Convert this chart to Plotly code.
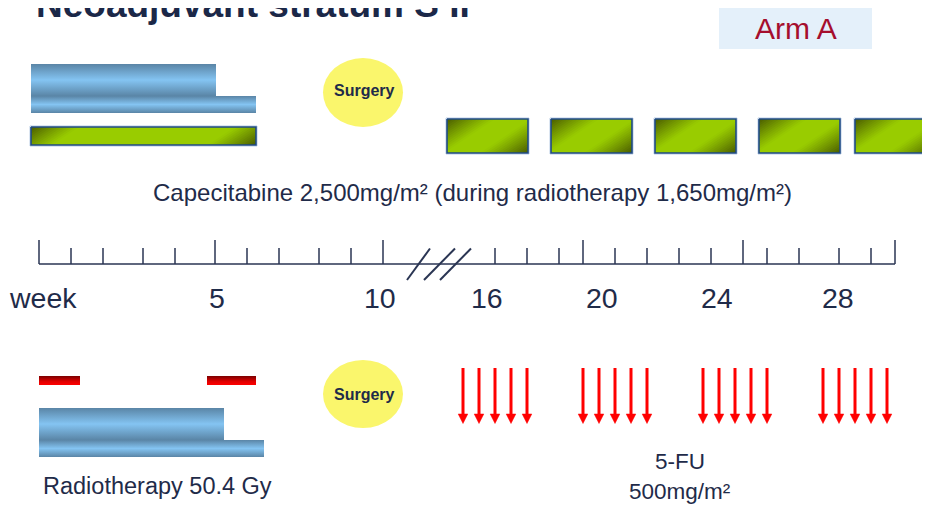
import plotly.graph_objects as go

# ---------------- data ----------------
title_text = "Neoadjuvant stratum S II"
arm_label = "Arm A"
week_labels = ["week", "5", "10", "16", "20", "24", "28"]
cape_text = "Capecitabine 2,500mg/m² (during radiotherapy 1,650mg/m²)"
rt_text = "Radiotherapy 50.4 Gy"
fu_text = ["5-FU", "500mg/m²"]
surgery_text = "Surgery"
cape_cycles = [1, 2, 3, 4, 5]      # adjuvant capecitabine cycles
fu_cycles = [1, 2, 3, 4]           # 5-FU cycles
fu_days = [1, 2, 3, 4, 5]          # 5-FU days per cycle

# ---------------- layout geometry (pixel space of the slide) ----------------
W, H = 930, 506
PAGE_OFFSET = 8   # the page body margin shifts the figure; compensate in axis ranges
NAVY = "#1F2B49"
FONT = "Liberation Sans, Arial, sans-serif"

tick_left = [39, 71, 103, 143, 175, 215, 247, 279, 319, 351, 383]
tick_right = [495, 527, 559, 583, 615, 647, 679, 711, 743, 767, 799, 839, 871, 895]
long_ticks = {39, 215, 383, 583, 743, 895}
label_x = [43, 217, 380, 487, 602, 717, 838]
axis_y = 264

cycle_x0 = [447, 551, 655, 759, 855]
cycle_w, cycle_y0, cycle_y1 = 81, 119, 153
group_x0 = [463, 583, 703, 823]
day_pitch = 16

fig = go.Figure()


def rect_xy(x0, x1, y0, y1):
    return [x0, x1, x1, x0, x0], [y0, y0, y1, y1, y0]


# ---- blue radiotherapy bars with vertical gradient bands ----
blue_dark, blue_light = "#5A85A6", "#84C4F2"
blue_bands = [(31, 216, 64, 96), (31, 256, 96, 113), (39, 224, 408, 440), (39, 264, 440, 457)]
for (x0, x1, y0, y1) in blue_bands:
    xs, ys = rect_xy(x0, x1, y0, y1)
    fig.add_trace(go.Scatter(
        x=xs, y=ys, mode="lines", fill="toself", line=dict(width=0),
        fillgradient=dict(type="vertical", start=y0, stop=y1,
                          colorscale=[[0, blue_dark], [0.5, blue_light], [1, blue_dark]]),
        hoverinfo="skip", showlegend=False))

# ---- red bars (vertical gradient) ----
for (x0, x1) in [(39, 80), (207, 256)]:
    xs, ys = rect_xy(x0, x1, 376, 385)
    fig.add_trace(go.Scatter(
        x=xs, y=ys, mode="lines", fill="toself", line=dict(width=0),
        fillgradient=dict(type="vertical", start=376, stop=385,
                          colorscale=[[0, "#7A0000"], [0.6, "#E00000"], [1, "#FF0000"]]),
        hoverinfo="skip", showlegend=False))

# ---- green capecitabine boxes with diagonal shading ----
green_rects = [(31, 256, 127, 145)] + [(x, x + cycle_w, cycle_y0, cycle_y1) for x in cycle_x0[:len(cape_cycles)]]


def clip_half(poly, f):
    out = []
    n = len(poly)
    for i in range(n):
        p, q = poly[i], poly[(i + 1) % n]
        fp, fq = f(*p), f(*q)
        if fp >= 0:
            out.append(p)
        if (fp >= 0) != (fq >= 0):
            t = fp / (fp - fq)
            out.append((p[0] + t * (q[0] - p[0]), p[1] + t * (q[1] - p[1])))
    return out


def mix(c1, c2, s):
    a = [int(c1[i:i + 2], 16) for i in (1, 3, 5)]
    b = [int(c2[i:i + 2], 16) for i in (1, 3, 5)]
    return "rgb(%d,%d,%d)" % tuple(round(a[k] + (b[k] - a[k]) * s) for k in range(3))


g_dark, g_bright = "#475800", "#99CC00"
bx, by = [], []
for (x0, x1, y0, y1) in green_rects:
    xs, ys = rect_xy(x0, x1, y0, y1)
    bx += xs + [None]
    by += ys + [None]
fig.add_trace(go.Scatter(x=bx, y=by, mode="lines", fill="toself", fillcolor=g_bright,
                         line=dict(width=0), hoverinfo="skip", showlegend=False))

R, K, N = 48.0, 1.5, 14
for corner in (0, 1):
    for k in range(N, 0, -1):
        c = R * k / N
        s = (k - 0.5) / N
        col = mix(g_dark, g_bright, s ** 0.9)
        px, py = [], []
        for (x0, x1, y0, y1) in green_rects:
            poly = [(x0, y0), (x1, y0), (x1, y1), (x0, y1)]
            if corner == 0:
                f = lambda x, y, x0=x0, y0=y0, c=c: c - ((x - x0) + K * (y - y0))
            else:
                f = lambda x, y, x1=x1, y1=y1, c=c: c - ((x1 - x) + K * (y1 - y))
            cp = clip_half(poly, f)
            if len(cp) >= 3:
                px += [p[0] for p in cp] + [cp[0][0], None]
                py += [p[1] for p in cp] + [cp[0][1], None]
        if px:
            fig.add_trace(go.Scatter(x=px, y=py, mode="lines", fill="toself", fillcolor=col,
                                     line=dict(width=0), hoverinfo="skip", showlegend=False))

hx, hy, ox, oy = [], [], [], []
for (x0, x1, y0, y1) in green_rects:
    xs, ys = rect_xy(x0 - 1, x1 + 1, y0 - 1, y1 + 1)
    hx += xs + [None]
    hy += ys + [None]
    xs, ys = rect_xy(x0, x1, y0, y1)
    ox += xs + [None]
    oy += ys + [None]
fig.add_trace(go.Scatter(x=hx, y=hy, mode="lines", line=dict(color="#B8CCE4", width=1),
                         hoverinfo="skip", showlegend=False))
fig.add_trace(go.Scatter(x=ox, y=oy, mode="lines", line=dict(color="#1F4A85", width=1.6),
                         hoverinfo="skip", showlegend=False))

# ---- timeline ----
fig.add_trace(go.Scatter(x=[tick_left[0], tick_right[-1]], y=[axis_y, axis_y], mode="lines",
                         line=dict(color="#2A3553", width=1.5), hoverinfo="skip", showlegend=False))
tx, ty = [], []
for x in tick_left + tick_right:
    top = 240 if x in long_ticks else 248
    tx += [x, x, None]
    ty += [axis_y, top, None]
fig.add_trace(go.Scatter(x=tx, y=ty, mode="lines", line=dict(color="#2A3553", width=1.5),
                         hoverinfo="skip", showlegend=False))
sx, sy = [], []
for (xb, xt) in [(407, 430), (424, 455), (440, 471)]:
    sx += [xb, xt, None]
    sy += [280, 248.5, None]
fig.add_trace(go.Scatter(x=sx, y=sy, mode="lines", line=dict(color="#2A3553", width=2),
                         hoverinfo="skip", showlegend=False))

# ---- 5-FU arrows ----
ax_, ay_, hx_, hy_ = [], [], [], []
for gi, g in enumerate(fu_cycles):
    for di, d in enumerate(fu_days):
        x = group_x0[gi] + di * day_pitch
        ax_ += [x, x, None]
        ay_ += [368, 415, None]
        hx_ += [x - 4.8, x + 4.8, x, x - 4.8, None]
        hy_ += [414, 414, 423.5, 414, None]
fig.add_trace(go.Scatter(x=ax_, y=ay_, mode="lines", line=dict(color="#FF0000", width=3),
                         hoverinfo="skip", showlegend=False))
fig.add_trace(go.Scatter(x=hx_, y=hy_, mode="lines", fill="toself", fillcolor="#FF0000",
                         line=dict(color="#FF0000", width=0.5), hoverinfo="skip", showlegend=False))

# ---- shapes: surgery ellipses, arm box ----
shapes = [
    dict(type="circle", xref="x", yref="y", x0=323, x1=403, y0=58, y1=127,
         fillcolor="#FAF66C", line=dict(width=0), layer="below"),
    dict(type="circle", xref="x", yref="y", x0=323, x1=403, y0=360, y1=428,
         fillcolor="#FAF66C", line=dict(width=0), layer="below"),
    dict(type="rect", xref="x", yref="y", x0=719, x1=872, y0=8, y1=49,
         fillcolor="#E4F0FA", line=dict(width=0), layer="below"),
]

# ---- texts ----
ann = []


def text(x, y, s, size, color=NAVY, bold=False, xanchor="center"):
    ann.append(dict(x=x, y=y, xref="x", yref="y", text=("<b>%s</b>" % s) if bold else s,
                    showarrow=False, xanchor=xanchor, yanchor="middle",
                    font=dict(family=FONT, size=size, color=color)))


# title sits partly above the slide's top edge (cropped in the original)
ann.append(dict(x=34, y=1 + 3.3 / H, xref="x", yref="paper", text="<b>%s</b>" % title_text,
                showarrow=False, xanchor="left", yanchor="middle",
                font=dict(family=FONT, size=37, color="#1B2848")))
text(796, 28, arm_label, 30, color="#A50E2D")
text(364, 90, surgery_text, 16, bold=True)
text(364, 394, surgery_text, 16, bold=True)
text(472, 192, cape_text, 24)
for x, lab in zip(label_x, week_labels):
    text(x, 298, lab, 28.5)
text(41, 486, rt_text, 23.5, xanchor="left")
text(680, 461, fu_text[0], 22.5)
text(680, 491, fu_text[1], 22.5)

fig.update_layout(
    width=W, height=H, margin=dict(l=0, r=0, t=0, b=0),
    paper_bgcolor="white", plot_bgcolor="white",
    xaxis=dict(range=[PAGE_OFFSET, W + PAGE_OFFSET], visible=False, fixedrange=True),
    yaxis=dict(range=[H + PAGE_OFFSET, PAGE_OFFSET], visible=False, fixedrange=True),
    shapes=shapes, annotations=ann, showlegend=False,
)

fig.write_html("out.html")
